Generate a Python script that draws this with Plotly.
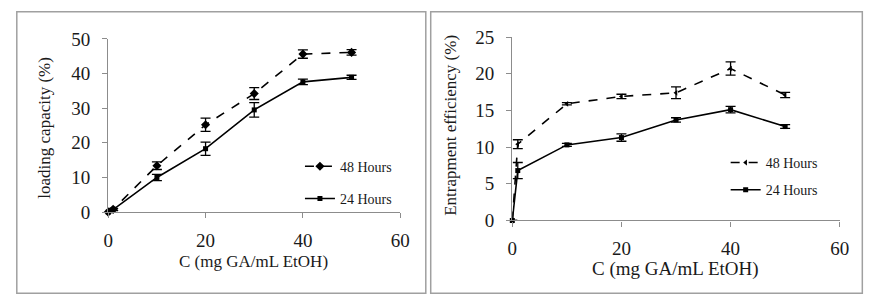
import plotly.graph_objects as go

conc = [0, 1, 10, 20, 30, 40, 50]

lc_48 = [0, 0.8, 13.4, 25.2, 34.2, 45.6, 46.1]
lc_48_err = [0, 0.3, 1.1, 1.9, 1.7, 1.2, 0.8]
lc_24 = [0, 0.7, 10.0, 18.3, 29.5, 37.6, 38.9]
lc_24_err = [0, 0.3, 0.9, 1.9, 2.1, 0.8, 0.6]

ee_48 = [0, 10.4, 15.9, 16.9, 17.4, 20.7, 17.1]
ee_48_err = [0, 0.6, 0.15, 0.3, 0.8, 0.9, 0.35]
ee_24 = [0, 6.8, 10.3, 11.3, 13.7, 15.1, 12.8]
ee_24_err = [0, 1.1, 0.2, 0.5, 0.3, 0.45, 0.25]

x_ticks = [0, 20, 40, 60]
lc_ticks = [0, 10, 20, 30, 40, 50]
ee_ticks = [0, 5, 10, 15, 20, 25]

W, H = 891, 306
FONT = "Liberation Serif"
AX = "#8c8c8c"
TXT = "#1a1a1a"

def err(a):
    return dict(type="data", array=a, color="black", thickness=1.3, width=5, visible=True)

fig = go.Figure()

common_tr = dict(mode="lines+markers", cliponaxis=False)
fig.add_trace(go.Scatter(x=conc, y=lc_48, error_y=err(lc_48_err), name="48 Hours",
                         line=dict(color="black", width=1.6, dash="dash"),
                         marker=dict(symbol="diamond", size=7, color="black"),
                         xaxis="x", yaxis="y", legend="legend", legendgroup="a", **common_tr))
fig.add_trace(go.Scatter(x=conc, y=lc_24, error_y=err(lc_24_err), name="24 Hours",
                         line=dict(color="black", width=1.6),
                         marker=dict(symbol="square", size=5, color="black"),
                         xaxis="x", yaxis="y", legend="legend", legendgroup="b", **common_tr))
fig.add_trace(go.Scatter(x=conc, y=ee_48, error_y=err(ee_48_err), name="48 Hours",
                         line=dict(color="black", width=1.6, dash="dash"),
                         marker=dict(symbol="triangle-left", size=5, color="black"),
                         xaxis="x2", yaxis="y2", legend="legend2", legendgroup="c", **common_tr))
fig.add_trace(go.Scatter(x=conc, y=ee_24, error_y=err(ee_24_err), name="24 Hours",
                         line=dict(color="black", width=1.6),
                         marker=dict(symbol="square", size=5, color="black"),
                         xaxis="x2", yaxis="y2", legend="legend2", legendgroup="d", **common_tr))

def px_x(v):
    return v / W

def px_y(v):
    return 1 - v / H

axis_common = dict(showgrid=False, zeroline=False, showline=True, linecolor=AX, linewidth=1.3,
                   ticks="outside", tickcolor=AX, ticklen=5, tickwidth=1.2,
                   tickfont=dict(family=FONT, size=19, color=TXT))

fig.update_layout(
    width=W, height=H, margin=dict(l=0, r=0, t=0, b=0),
    paper_bgcolor="white", plot_bgcolor="white",
    font=dict(family=FONT, color=TXT),
    xaxis=dict(domain=[px_x(105), px_x(402)], range=[0, 60], tickvals=x_ticks, anchor="y",
               ticklabelstandoff=6, **axis_common),
    yaxis=dict(domain=[px_y(217), px_y(31)], range=[0, 50], tickvals=lc_ticks, anchor="x",
               ticklabelstandoff=8, **axis_common),
    xaxis2=dict(domain=[px_x(516), px_x(849)], range=[0, 60], tickvals=x_ticks, anchor="y2",
                ticklabelstandoff=6, **axis_common),
    yaxis2=dict(domain=[px_y(226), px_y(29)], range=[0, 25], tickvals=ee_ticks, anchor="x2",
                ticklabelstandoff=8, **axis_common),
    legend=dict(x=px_x(300), y=px_y(151), xanchor="left", yanchor="top",
                bgcolor="rgba(0,0,0,0)", font=dict(family=FONT, size=14, color=TXT),
                tracegroupgap=11, traceorder="grouped"),
    legend2=dict(x=px_x(733), y=px_y(147), xanchor="left", yanchor="top",
                 bgcolor="rgba(0,0,0,0)", font=dict(family=FONT, size=14, color=TXT),
                 tracegroupgap=6, traceorder="grouped"),
    showlegend=True,
)

# panel borders
for x0, x1 in [(12, 428), (433, 872)]:
    fig.add_shape(type="rect", xref="paper", yref="paper",
                  x0=px_x(x0), x1=px_x(x1), y0=px_y(304), y1=px_y(2),
                  line=dict(color="#a0a0a0", width=1.5), fillcolor="rgba(0,0,0,0)")

ann = [
    dict(text="C (mg GA/mL EtOH)", x=px_x(253), y=px_y(270), size=17, angle=0),
    dict(text="loading capacity (%)", x=px_x(40), y=px_y(126), size=17, angle=-90),
    dict(text="C (mg GA/mL EtOH)", x=px_x(682), y=px_y(278), size=19, angle=0),
    dict(text="Entrapment efficiency (%)", x=px_x(453), y=px_y(124), size=17, angle=-90),
]
for a in ann:
    fig.add_annotation(text=a["text"], x=a["x"], y=a["y"], xref="paper", yref="paper",
                       showarrow=False, textangle=a["angle"], xanchor="center", yanchor="middle",
                       font=dict(family=FONT, size=a["size"], color=TXT))

fig.write_html("out.html")
